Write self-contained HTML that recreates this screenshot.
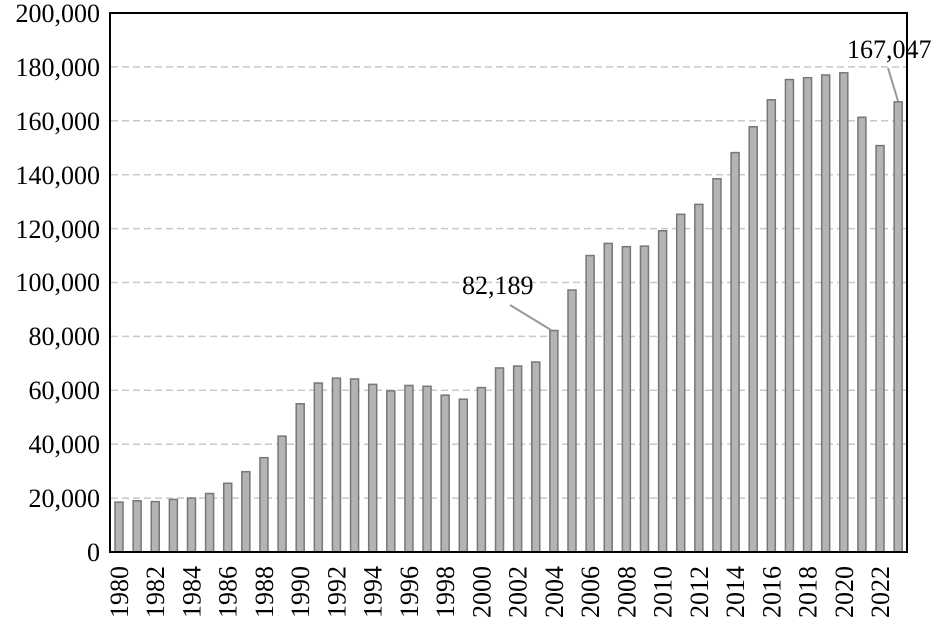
<!DOCTYPE html>
<html><head><meta charset="utf-8"><style>
body{margin:0;background:#fff}
svg text{font-family:"Liberation Serif",serif;font-size:26px;fill:#000}
</style></head><body>
<svg id="s" width="935" height="623" xmlns="http://www.w3.org/2000/svg">
<g id="grid" stroke="#c8c8c8" stroke-width="1.5" stroke-dasharray="7,4"></g>
<g id="bars"></g>
<rect x="110" y="13" width="797" height="539" fill="none" stroke="#000" stroke-width="2"/>
<g text-anchor="end">
<text x="100" y="561">0</text>
<text x="100" y="507">20,000</text>
<text x="100" y="453">40,000</text>
<text x="100" y="399">60,000</text>
<text x="100" y="345">80,000</text>
<text x="100" y="291">100,000</text>
<text x="100" y="238">120,000</text>
<text x="100" y="184">140,000</text>
<text x="100" y="130">160,000</text>
<text x="100" y="76">180,000</text>
<text x="100" y="22">200,000</text>
</g>
<g id="xl" text-anchor="end"></g>
<text x="462" y="294">82,189</text>
<line x1="510" y1="305" x2="551" y2="330" stroke="#999" stroke-width="2"/>
<text x="847" y="58">167,047</text>
<line x1="888" y1="68" x2="898" y2="101" stroke="#999" stroke-width="2"/>
</svg>
<script>
var v=[18.5,19,18.7,19.5,20,21.7,25.5,29.8,35,43,55,62.7,64.5,64.2,62.2,59.8,61.8,61.5,58.2,56.7,61,68.3,69,70.5,82.189,97.2,110,114.5,113.3,113.5,119.2,125.3,129,138.5,148.2,157.8,167.8,175.3,176,177,177.8,161.3,150.8,167.047];
var ns="http://www.w3.org/2000/svg",g=document.getElementById('bars'),gr=document.getElementById('grid'),xl=document.getElementById('xl');
for(var k=1;k<10;k++){var y=552-k*53.9;var l=document.createElementNS(ns,'line');l.setAttribute('x1',111);l.setAttribute('x2',906);l.setAttribute('y1',y);l.setAttribute('y2',y);gr.appendChild(l);}
for(var i=0;i<v.length;i++){var c=119+18.12*i,h=v[i]*2.695;var r=document.createElementNS(ns,'rect');r.setAttribute('x',c-4);r.setAttribute('y',552-h);r.setAttribute('width',8);r.setAttribute('height',h);r.setAttribute('fill','#b4b4b4');r.setAttribute('stroke','#777');r.setAttribute('stroke-width','1.5');g.appendChild(r);
if(i%2==0){var t=document.createElementNS(ns,'text');t.setAttribute('transform','translate('+(c+9)+',566) rotate(-90)');t.textContent=1980+i;xl.appendChild(t);}}
</script>
</body></html>
